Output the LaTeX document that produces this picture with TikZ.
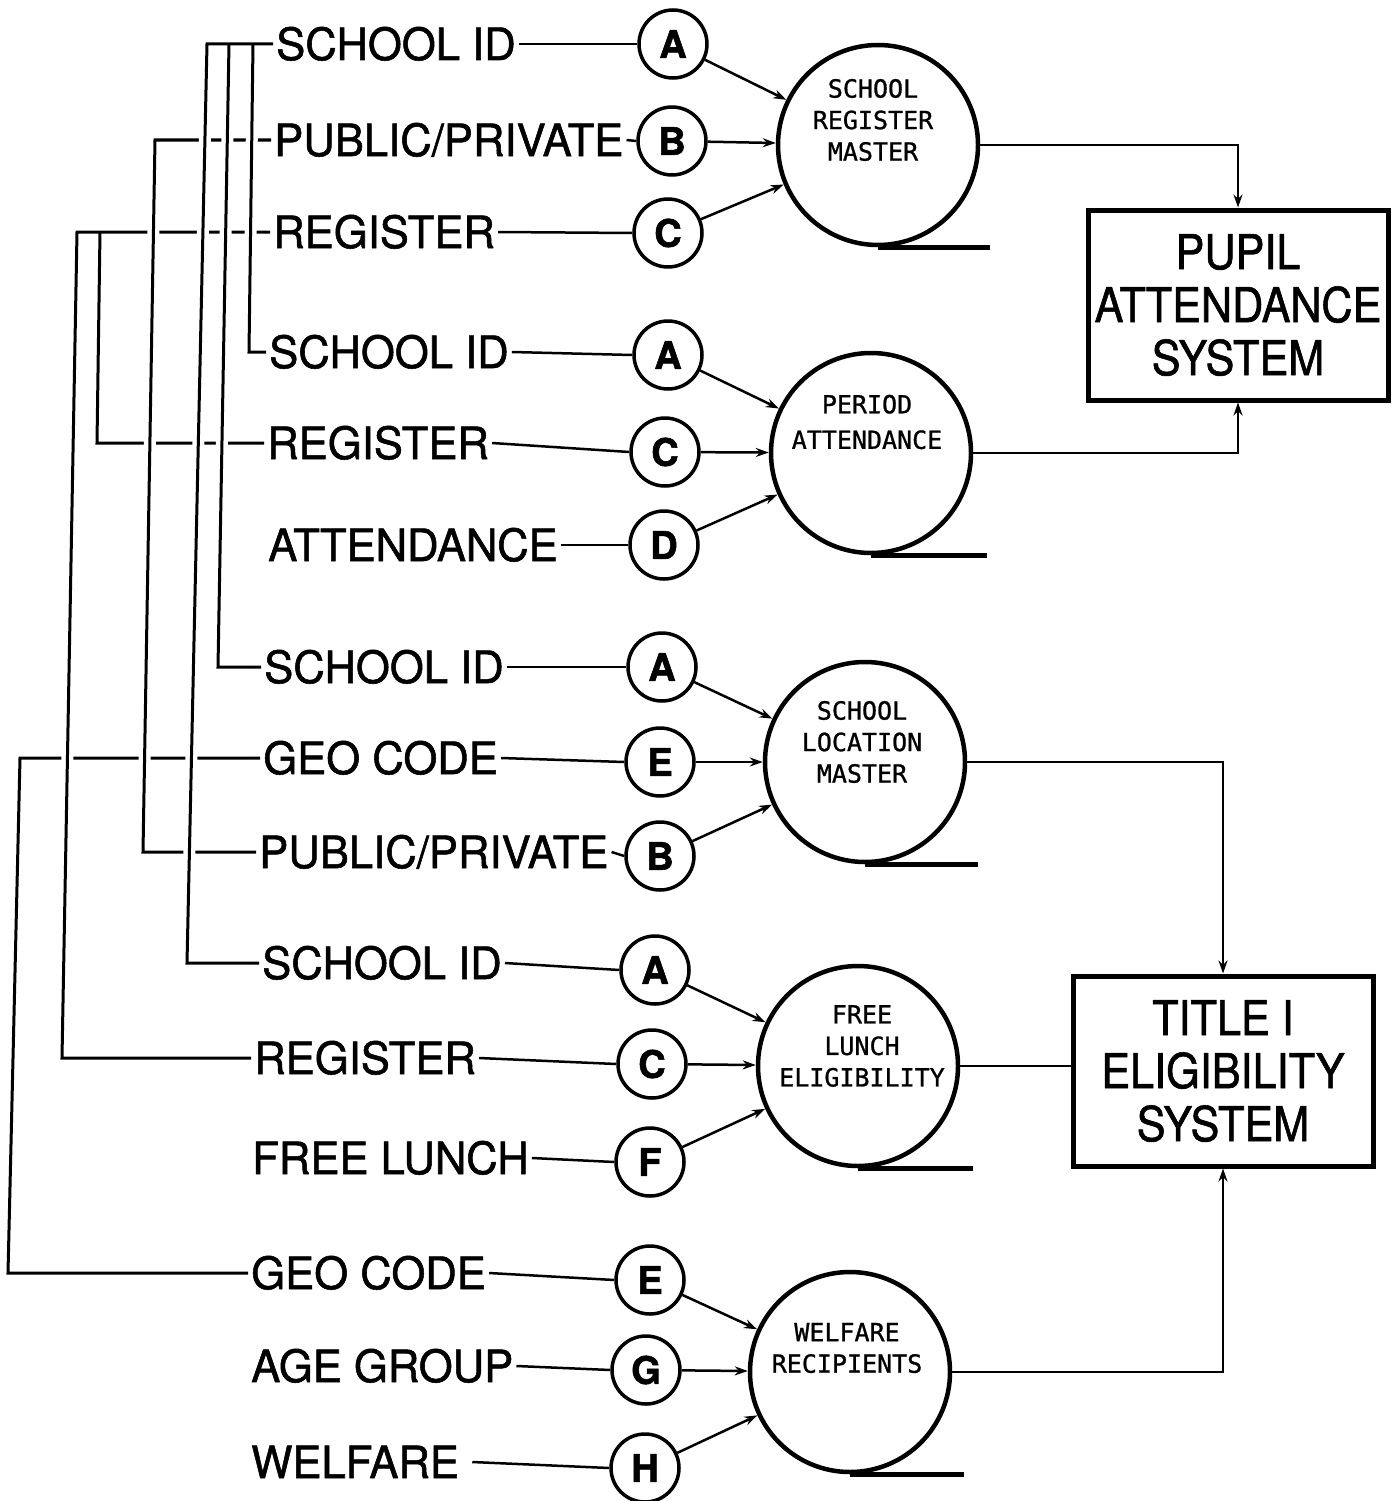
\documentclass[tikz,border=0pt]{standalone}
\usepackage{fontspec}
\setmainfont{TeX Gyre Heros}
\newfontfamily\labelfont[FakeStretch=0.98, FakeBold=1.2]{TeX Gyre Heros}
\newfontfamily\boxfont[FakeStretch=0.9, FakeBold=1.2]{TeX Gyre Heros}
\newfontfamily\keyfont[BoldFeatures={FakeBold=1.5}]{TeX Gyre Heros}
\newfontfamily\diskfont[FakeBold=1]{DejaVu Sans Mono}
\usetikzlibrary{arrows.meta}

\tikzset{
  field/.style={anchor=west, inner sep=2pt, text height=32pt, text depth=0pt, font=\labelfont\fontsize{44.5}{48}\selectfont},
  key/.style={circle, draw, line width=3.5pt, minimum size=68pt, inner sep=0pt, font=\keyfont\fontsize{38}{40}\selectfont\bfseries},
  disk/.style={circle, draw, line width=4.5pt, minimum size=200pt, inner sep=0pt},
  disktext/.style={align=center, font=\diskfont\fontsize{25}{31.5}\selectfont},
  sysbox/.style={draw, line width=5pt, minimum width=300pt, minimum height=190pt, align=center, font=\boxfont\fontsize{48}{53}\selectfont},
  tail/.style={line width=5.5pt},
  bus/.style={line width=3pt, preaction={draw=white, line width=12pt, shorten >=7pt, shorten <=7pt}}
}

\begin{document}
\begin{tikzpicture}[x=1pt, y=-1pt, line width=2.5pt, >={Stealth[length=13pt, width=9pt]}]
\useasboundingbox (0,0) rectangle (1399,1501);

\node[field] (sid1) at (273,44) {SCHOOL ID};
\node[field] (pp1) at (271,140) {PUBLIC/PRIVATE};
\node[field] (reg1) at (270,232) {REGISTER};
\node[field] (sid2) at (266,352) {SCHOOL ID};
\node[field] (reg2) at (264,443) {REGISTER};
\node[field] (att2) at (265,545) {ATTENDANCE};
\node[field] (sid3) at (261,667) {SCHOOL ID};
\node[field] (geo3) at (260,758) {GEO CODE};
\node[field] (pp3) at (256,852) {PUBLIC/PRIVATE};
\node[field] (sid4) at (259,963) {SCHOOL ID};
\node[field] (reg4) at (251,1058) {REGISTER};
\node[field] (lun4) at (249,1158) {FREE LUNCH};
\node[field] (geo5) at (248,1273) {GEO CODE};
\node[field] (age5) at (248,1366) {AGE GROUP};
\node[field] (wel5) at (248,1462) {WELFARE};

\node[key] (a1) at (673,44) {A};
\node[key] (b1) at (672,141) {B};
\node[key] (c1) at (668,233) {C};
\node[key] (a2) at (668,355) {A};
\node[key] (c2) at (665,452) {C};
\node[key] (d2) at (664,545) {D};
\node[key] (a3) at (662,667) {A};
\node[key] (e3) at (660,762) {E};
\node[key] (b3) at (660,856) {B};
\node[key] (a4) at (655,970) {A};
\node[key] (c4) at (652,1064) {C};
\node[key] (f4) at (650,1162) {F};
\node[key] (e5) at (650,1280) {E};
\node[key] (g5) at (646,1370) {G};
\node[key] (h5) at (645,1468) {H};

\node[disk] (srm) at (878,145) {};
\node[disk] (pat) at (871,453) {};
\node[disk] (slm) at (865,762) {};
\node[disk] (fle) at (858,1066) {};
\node[disk] (wfr) at (850,1372) {};
\node[disktext] at ([yshift=25pt,xshift=-5pt]srm.center) {SCHOOL\\REGISTER\\MASTER};
\node[disktext] at ([yshift=31pt,xshift=-4pt]pat.center) {PERIOD\\[4pt]ATTENDANCE};
\node[disktext] at ([yshift=20pt,xshift=-3pt]slm.center) {SCHOOL\\LOCATION\\MASTER};
\node[disktext] at ([yshift=20pt,xshift=4pt]fle.center) {FREE\\LUNCH\\ELIGIBILITY};
\node[disktext] at ([yshift=24pt,xshift=-3pt]wfr.center) {WELFARE\\RECIPIENTS};
\draw[tail] (srm.south) -- ++(112,0);
\draw[tail] (pat.south) -- ++(116,0);
\draw[tail] (slm.south) -- ++(113,0);
\draw[tail] (fle.south) -- ++(115,0);
\draw[tail] (wfr.south) -- ++(114,0);

\node[sysbox] (pas) at (1238,305) {PUPIL\\ATTENDANCE\\SYSTEM};
\node[sysbox] (tes) at (1223,1071) {TITLE I\\ELIGIBILITY\\SYSTEM};

% shared fields
\coordinate (g1) at (20,758);
\coordinate (g2) at (8,1273);
\coordinate (r1) at (77,232);
\coordinate (r3) at (62,1058);
\coordinate (r2t) at (100,232);
\coordinate (r2b) at (97,443);
\coordinate (p1) at (155,140);
\coordinate (p3) at (143,852);
\coordinate (s1t) at (207,44);
\coordinate (s1b) at (187,963);
\coordinate (s2t) at (229,44);
\coordinate (s2b) at (218,667);
\coordinate (s3t) at (253,44);
\coordinate (s3b) at (249,352);
\draw[bus] (geo3.west) -- (g1) -- (g2) -- (geo5.west |- g2);
\draw[bus] (reg1.west) -- (r1) -- (r3) -- (reg4.west |- r3);
\draw[bus] (r2t) -- (r2b) -- (reg2.west |- r2b);
\draw[bus] (pp1.west) -- (p1) -- (p3) -- (pp3.west |- p3);
\draw[bus] (sid1.west) -- (s1t) -- (s1b) -- (sid4.west |- s1b);
\draw[bus] (s2t) -- (s2b) -- (sid3.west |- s2b);
\draw[bus] (s3t) -- (s3b) -- (sid2.west |- s3b);

\draw (sid1.east) -- (a1.west);
\draw (pp1.east) -- (b1.west);
\draw (reg1.east) -- (c1.west);
\draw (sid2.east) -- (a2.west);
\draw (reg2.east) -- (c2.west);
\draw (att2.east) -- (d2.west);
\draw (sid3.east) -- (a3.west);
\draw (geo3.east) -- (e3.west);
\draw (pp3.east) -- (b3.west);
\draw (sid4.east) -- (a4.west);
\draw (reg4.east) -- (c4.west);
\draw (lun4.east) -- (f4.west);
\draw (geo5.east) -- (e5.west);
\draw (age5.east) -- (g5.west);
\draw ([xshift=10pt]wel5.east) -- (h5.west);

\draw[->] (a1) -- (srm);
\draw[->] (b1) -- (srm);
\draw[->] (c1) -- (srm);
\draw[->] (a2) -- (pat);
\draw[->] (c2) -- (pat);
\draw[->] (d2) -- (pat);
\draw[->] (a3) -- (slm);
\draw[->] (e3) -- (slm);
\draw[->] (b3) -- (slm);
\draw[->] (a4) -- (fle);
\draw[->] (c4) -- (fle);
\draw[->] (f4) -- (fle);
\draw[->] (e5) -- (wfr);
\draw[->] (g5) -- (wfr);
\draw[->] (h5) -- (wfr);

\draw[->] (srm.east) -| (pas.north);
\draw[->] (pat.east) -| (pas.south);
\draw[->] (slm.east) -| (tes.north);
\draw (fle.east) -- (fle.east -| tes.west);
\draw[->] (wfr.east) -| (tes.south);
\end{tikzpicture}
\end{document}
